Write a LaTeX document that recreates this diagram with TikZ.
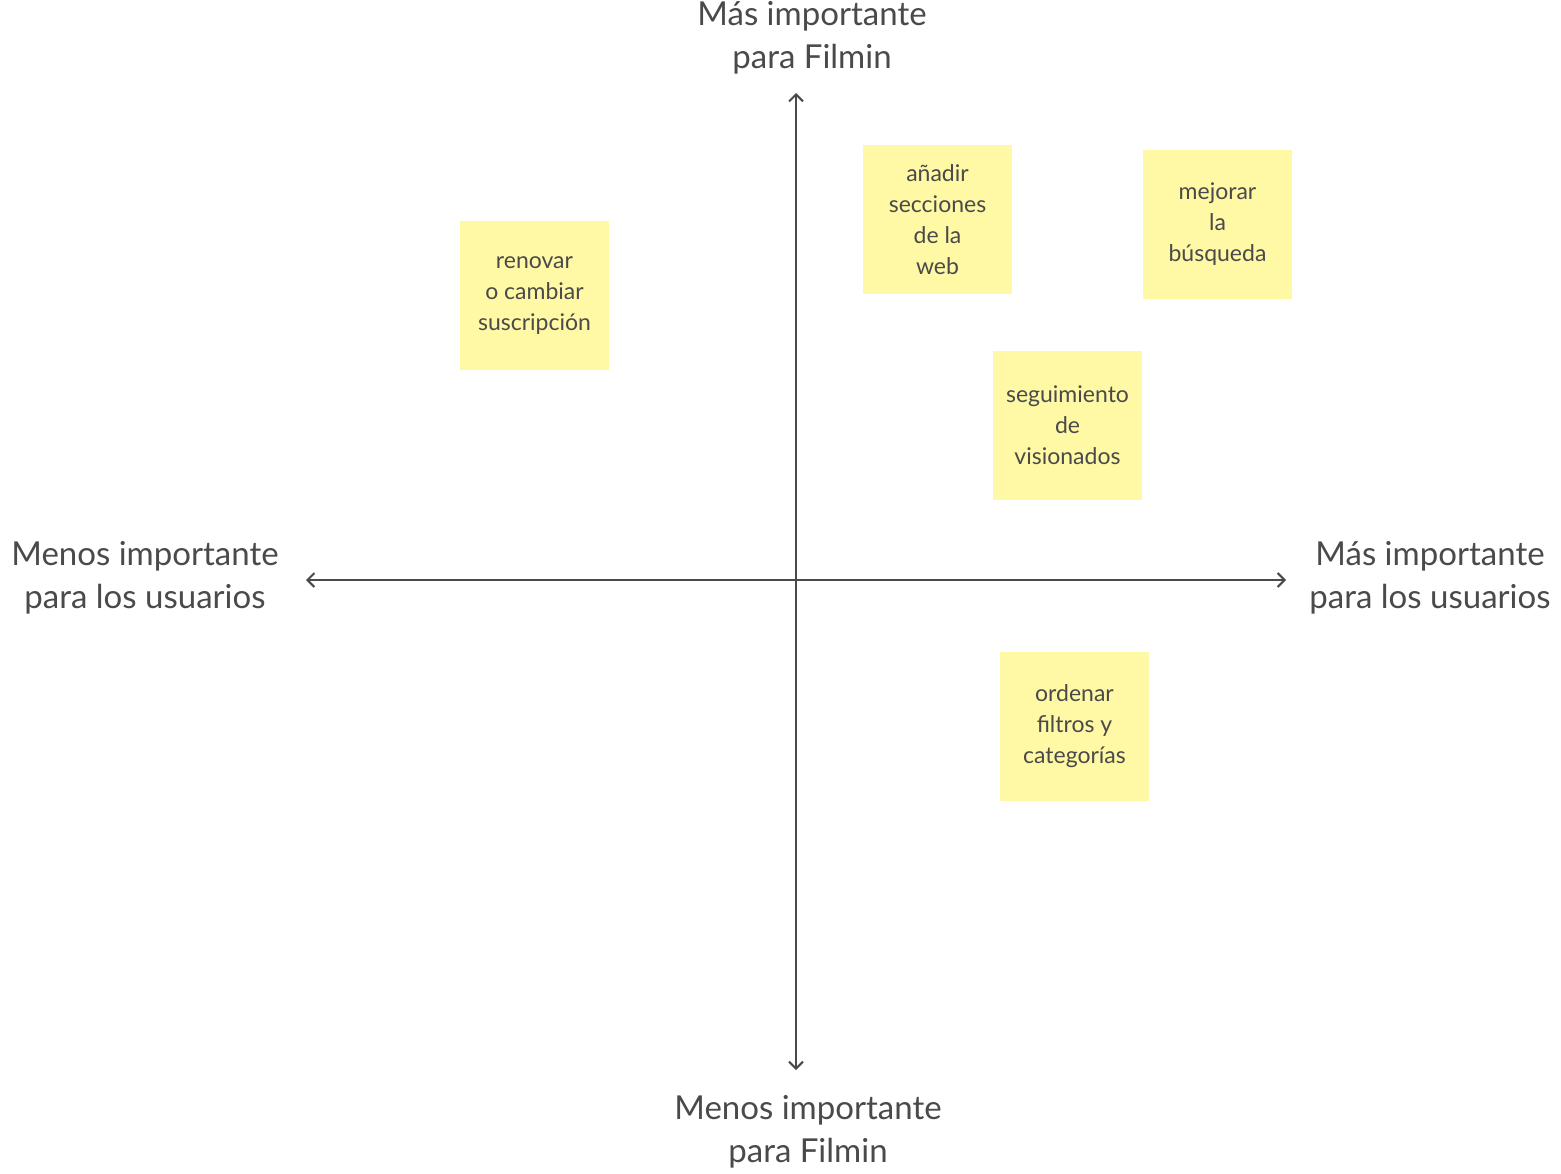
\documentclass[tikz,border=0pt]{standalone}
\usepackage{fontspec}
\setmainfont{Lato}
\usetikzlibrary{arrows.meta}
\definecolor{ink}{HTML}{4A4A4A}
\definecolor{sticky}{HTML}{FFF8A5}
\begin{document}
\begin{tikzpicture}[x=1pt,y=-1pt,
  note/.style={fill=sticky,draw=none,minimum width=149pt,minimum height=149pt,inner sep=0pt,align=center,text=ink,font=\fontsize{23}{31}\selectfont},
  axlabel/.style={align=center,text=ink,font=\fontsize{33}{43}\selectfont},
  axis/.style={draw=ink,line width=2pt,-{Straight Barb[length=7pt,width=14pt]}}]
\useasboundingbox (0,0) rectangle (1561,1173);
\coordinate (c) at (796,580);
\coordinate (t) at (796,93);
\coordinate (b) at (796,1070);
\coordinate (l) at (306,580);
\coordinate (r) at (1286,580);
\draw[axis] (c) -- (t);
\draw[axis] (c) -- (b);
\draw[axis] (c) -- (l);
\draw[axis] (c) -- (r);
\node[axlabel] (lt) at (812,38) {Más importante\\para Filmin};
\node[axlabel] (lb) at (808,1132) {Menos importante\\para Filmin};
\node[axlabel] (ll) at (145,578) {Menos importante\\para los usuarios};
\node[axlabel] (lr) at (1430,578) {Más importante\\para los usuarios};
\node[note] (n1) at (534.5,295.5) {renovar\\o cambiar\\suscripción};
\node[note] (n2) at (937.5,219.5) {añadir\\secciones\\de la\\web};
\node[note] (n3) at (1217.5,224.5) {mejorar\\la\\búsqueda};
\node[note] (n4) at (1067.5,425.5) {seguimiento\\de\\visionados};
\node[note] (n5) at (1074.5,726.5) {ordenar\\filtros y\\categorías};
\end{tikzpicture}
\end{document}
